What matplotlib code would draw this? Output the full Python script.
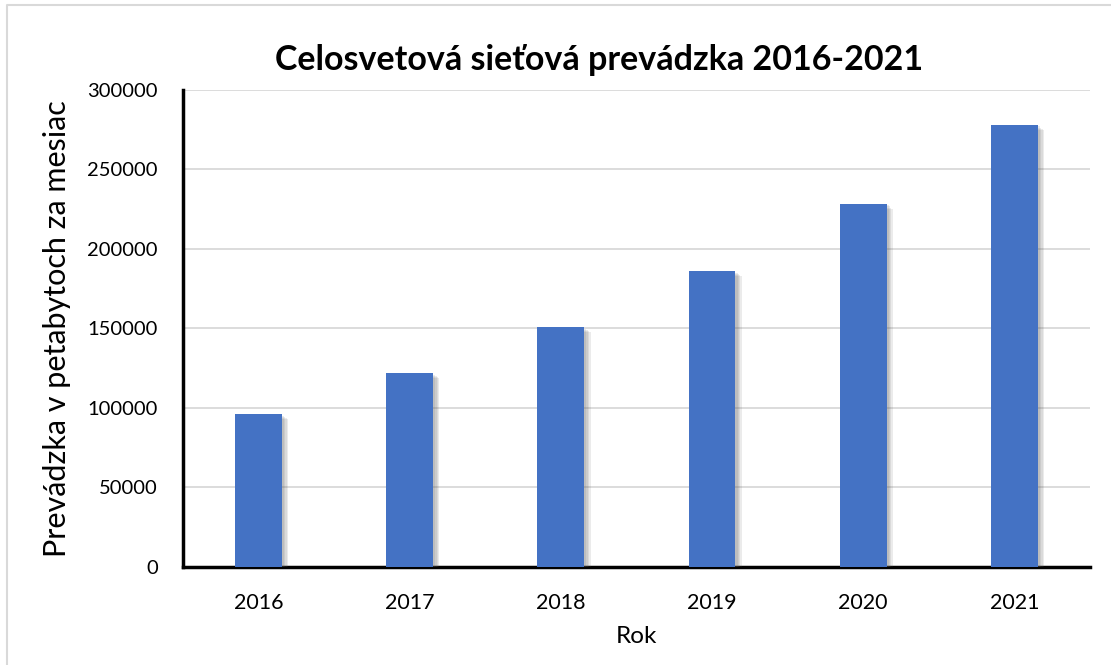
import matplotlib
matplotlib.use("Agg")
import matplotlib.pyplot as plt
import matplotlib.patheffects as pe
from matplotlib.lines import Line2D

# traffic data (PB per month)
years = ["2016", "2017", "2018", "2019", "2020", "2021"]
traffic = [96054, 121694, 150910, 186101, 228496, 278108]
yticks = [0, 50000, 100000, 150000, 200000, 250000, 300000]

plt.rcParams['font.family'] = ['Lato', 'DejaVu Sans']

fig = plt.figure(figsize=(11.11, 6.65), dpi=100)
ax = fig.add_axes([0.1647, 0.1474, 0.8163, 0.7173])

# light border on top and left edge of the chart area
fig.lines.append(Line2D([0.0065, 0.0065, 1.0], [0.0, 0.9925, 0.9925], transform=fig.transFigure,
                        color='#d9d9d9', linewidth=1.5))

# soft shadow built from a few stacked offsets
shadow = [pe.SimplePatchShadow(offset=(d, -d * 0.8), shadow_rgbFace='#606060', alpha=0.12)
          for d in (4.5, 3.5, 2.5, 1.5)]

x = range(len(years))
bars = ax.bar(x, traffic, width=0.31, color='#4472c4', zorder=3,
              path_effects=shadow + [pe.Normal()])

ax.set_xlim(-0.5, len(years) - 0.5)
ax.set_ylim(0, 300000)
ax.set_yticks(yticks)
ax.set_yticklabels([str(v) for v in yticks])
ax.set_xticks(list(x))
ax.set_xticklabels(years)

ax.grid(axis='y', color='#d9d9d9', linewidth=1.3, zorder=0)
ax.set_axisbelow(True)
for s in ['top', 'right']:
    ax.spines[s].set_visible(False)
ax.spines['left'].set_linewidth(2.5)
ax.spines['bottom'].set_linewidth(2.5)
ax.tick_params(axis='both', length=0, colors='black')
ax.tick_params(axis='y', pad=18, labelsize=14.5)
ax.tick_params(axis='x', pad=19, labelsize=15.5)

fig.text(0.539, 0.91, "Celosvetová sieťová prevádzka 2016-2021", fontsize=24.5,
         fontweight='bold', ha='center', va='center')
ax.set_ylabel("Prevádzka v petabytoch za mesiac", fontsize=22, labelpad=12)
ax.set_xlabel("Rok", fontsize=17.5, labelpad=9)

fig.savefig("out.png", dpi=100)
